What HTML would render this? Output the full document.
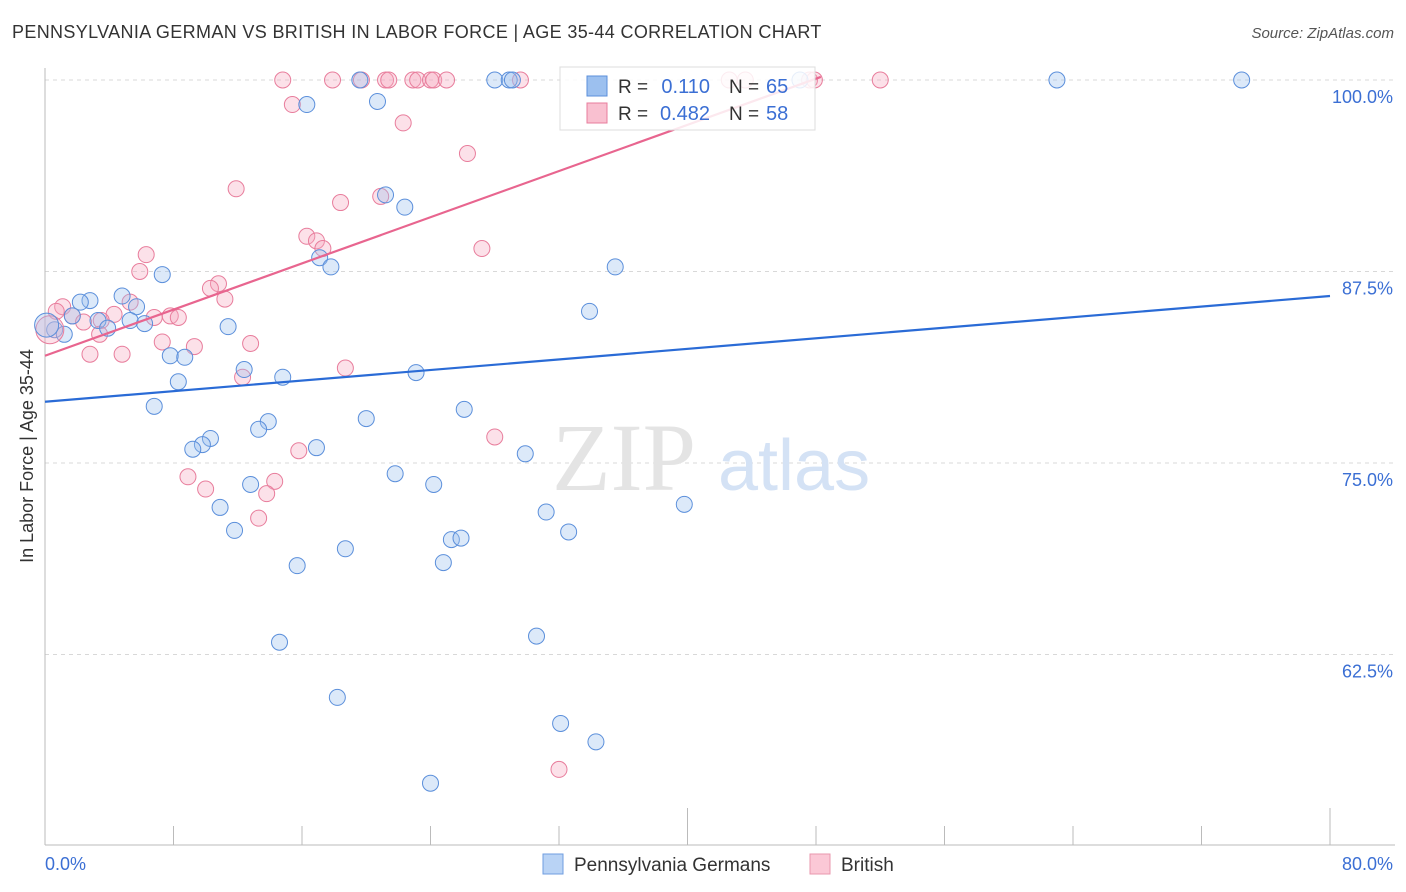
<!DOCTYPE html>
<html><head><meta charset="utf-8"><style>
body{margin:0;background:#fff;font-family:"Liberation Sans",sans-serif;}
#wrap{position:relative;width:1406px;height:892px;overflow:hidden;}
.t{position:absolute;white-space:nowrap;}
</style></head><body>
<div id="wrap">
<div class="t" style="left:12px;top:22px;font-size:18px;color:#333;letter-spacing:0.35px">PENNSYLVANIA GERMAN VS BRITISH IN LABOR FORCE | AGE 35-44 CORRELATION CHART</div>
<div class="t" style="right:12px;top:25px;font-size:15px;color:#555;font-style:italic">Source: ZipAtlas.com</div>
<div class="t" style="left:-102px;top:445px;font-size:18px;color:#333;transform:rotate(-90deg);transform-origin:center;width:260px;height:22px;text-align:center">In Labor Force | Age 35-44</div>
<svg id="plot" width="1406" height="892" style="position:absolute;left:0;top:0"></svg>
</div>
<script>
const xTicks=[0,80];
const yTicks=[100,87.5,75,62.5];
const blueX=[19.6,28.0,28.9,29.1,63.0,74.5,47.0,16.3,20.7,21.2,22.4,17.1,17.8,35.5,7.3,4.8,2.8,2.2,5.7,33.9,1.7,3.3,5.3,6.2,3.9,0.6,1.2,11.4,7.8,8.7,12.4,14.8,23.1,8.3,6.8,26.1,20.0,13.9,13.3,10.3,9.8,9.2,16.9,29.9,21.8,12.8,24.2,39.8,10.9,31.2,32.6,11.8,25.3,25.9,18.7,15.7,24.8,14.6,30.6,18.2,32.1,34.3,24.0];
const blueY=[100,100,100,100,100,100,100,98.4,98.6,92.5,91.7,88.4,87.8,87.8,87.3,85.9,85.6,85.5,85.2,84.9,84.6,84.3,84.3,84.1,83.8,83.7,83.4,83.9,82.0,81.9,81.1,80.6,80.9,80.3,78.7,78.5,77.9,77.7,77.2,76.6,76.2,75.9,76.0,75.6,74.3,73.6,73.6,72.3,72.1,71.8,70.5,70.6,70.0,70.1,69.4,68.3,68.5,63.3,63.7,59.7,58.0,56.8,54.1];
const pinkX=[14.8,17.9,19.7,21.2,21.4,22.9,23.2,24.0,24.2,25.0,29.6,42.6,43.6,47.6,47.9,52.0,15.4,22.3,26.3,11.9,18.4,20.9,16.3,16.9,17.3,27.2,6.3,5.9,10.8,10.3,11.2,5.3,1.1,0.7,1.7,4.3,6.8,7.8,8.3,2.4,3.5,3.4,7.3,12.8,9.3,2.8,4.8,18.7,12.3,28.0,15.8,8.9,10.0,14.3,13.8,13.3,32.0];
const pinkY=[100,100,100,100,100,100,100,100,100,100,100,100,100,100,100,100,98.4,97.2,95.2,92.9,92.0,92.4,89.8,89.5,89.0,89.0,88.6,87.5,86.7,86.4,85.7,85.5,85.2,84.9,84.6,84.7,84.5,84.6,84.5,84.2,84.3,83.4,82.9,82.8,82.6,82.1,82.1,81.2,80.6,76.7,75.8,74.1,73.3,73.8,73.0,71.4,55.0];
const blueBig=[0.1,84.0];
const pinkBig=[0.3,83.7];
const blueTrend=[0,79.0,80,85.9];
const pinkTrend=[0,82.0,48.3,100.2];

const X0=45,X1=1330,Y100=80,PXPER=15.32;
function sx(v){return X0+(v-0)/80*(X1-X0);}
function sy(v){return Y100+(100-v)*PXPER;}
const svg=document.getElementById('plot');
const NS='http://www.w3.org/2000/svg';
function mk(tag,attrs){const e=document.createElementNS(NS,tag);for(const k in attrs)e.setAttribute(k,attrs[k]);svg.appendChild(e);return e;}

yTicks.forEach(v=>{
 const g=mk('line',{x1:45,x2:1395,y1:sy(v),y2:sy(v),stroke:'#d8d8d8','stroke-dasharray':'4,4'});
 
 
 const t=mk('text',{x:1393,y:sy(v)+23,'text-anchor':'end','font-size':18,fill:'#3b6fd4','font-family':'Liberation Sans, sans-serif'});
 t.textContent=v.toFixed(1)+'%';
 
 
});
let a=mk('line',{x1:45,x2:45,y1:68,y2:845,stroke:'#bbb'});

a=mk('line',{x1:45,x2:1395,y1:845,y2:845,stroke:'#bbb'});

for(let i=0;i<=10;i++){
 const x=sx(i*8);
 const tk=mk('line',{x1:x,x2:x,y1:(i==5||i==10)?808:826,y2:845,stroke:'#bbb'});
 
 
}
xTicks.forEach((v,i)=>{
 const t=mk('text',{x:i==0?45:1393,y:870,'text-anchor':i==0?'start':'end','font-size':18,fill:'#3b6fd4','font-family':'Liberation Sans, sans-serif'});
 t.textContent=v.toFixed(1)+'%';
 
 
});
let w=mk('text',{x:552,y:490,'font-size':96,fill:'#e4e4e4','font-family':'Liberation Serif, serif'});w.textContent='ZIP';

w=mk('text',{x:718,y:490,'font-size':72,fill:'#d4e2f5','font-family':'Liberation Sans, sans-serif'});w.textContent='atlas';


function pts(xs,ys,fill,stroke,name){
 xs.forEach((x,i)=>{
  const c=mk('circle',{cx:sx(x),cy:sy(ys[i]),r:8,fill:fill,stroke:stroke,'stroke-width':1,'fill-opacity':0.35});
  
  
 });
}
pts(pinkX,pinkY,'#f6a9bf','#e87d9c','british-point');
pts(blueX,blueY,'#9cc0ef','#5b8fdb','pa-german-point');
let b=mk('circle',{cx:sx(pinkBig[0]),cy:sy(pinkBig[1]),r:14,fill:'#f6a9bf','fill-opacity':0.35,stroke:'#e87d9c'});

b=mk('circle',{cx:sx(blueBig[0]),cy:sy(blueBig[1]),r:12,fill:'#9cc0ef','fill-opacity':0.35,stroke:'#5b8fdb'});


let l=mk('line',{x1:sx(blueTrend[0]),y1:sy(blueTrend[1]),x2:sx(blueTrend[2]),y2:sy(blueTrend[3]),stroke:'#2a6bd6','stroke-width':2.2});

l=mk('line',{x1:sx(pinkTrend[0]),y1:sy(pinkTrend[1]),x2:sx(pinkTrend[2]),y2:sy(pinkTrend[3]),stroke:'#e8658f','stroke-width':2.2});


let r=mk('rect',{x:560,y:67,width:255,height:63,fill:'#fff','fill-opacity':0.85,stroke:'#ddd'});

const rows=[['#9cc0ef','#5b8fdb','0.110','65',86],['#f9c0d0','#e87d9c','0.482','58',113]];
rows.forEach((d,i)=>{
 const s=mk('rect',{x:587,y:d[4]-10,width:20,height:20,fill:d[0],stroke:d[1]});
 
 let t=mk('text',{x:618,y:d[4]+7,'font-size':19,fill:'#333','font-family':'Liberation Sans, sans-serif'});t.textContent='R = ';
 
 t=mk('text',{x:710,y:d[4]+7,'text-anchor':'end','font-size':20,fill:'#3b6fd4','font-family':'Liberation Sans, sans-serif'});t.textContent=d[2];
 
 t=mk('text',{x:729,y:d[4]+7,'font-size':19,fill:'#333','font-family':'Liberation Sans, sans-serif'});t.textContent='N = ';
 
 t=mk('text',{x:766,y:d[4]+7,'font-size':20,fill:'#3b6fd4','font-family':'Liberation Sans, sans-serif'});t.textContent=d[3];
 
});
[['#b9d3f5','#6f9ee0','Pennsylvania Germans',543],['#fbc8d6','#e897ae','British',810]].forEach(d=>{
 const s=mk('rect',{x:d[3],y:854,width:20,height:20,fill:d[0],stroke:d[1]});
 
 const t=mk('text',{x:d[3]+31,y:871,'font-size':19,fill:'#333','font-family':'Liberation Sans, sans-serif'});t.textContent=d[2];
 
});
</script>
</body></html>
